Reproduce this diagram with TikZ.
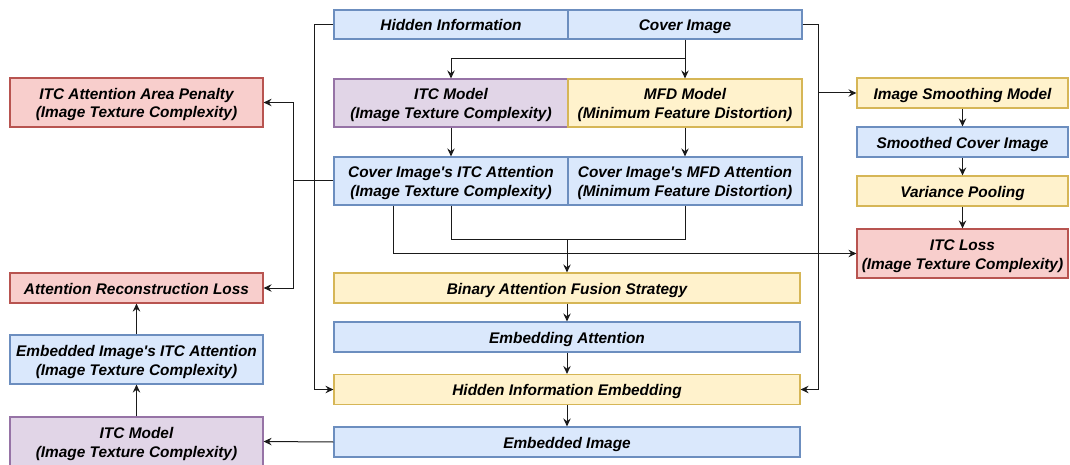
\documentclass[tikz,border=0pt]{standalone}
\usepackage{fontspec}
\setmainfont{Liberation Sans}
\usetikzlibrary{arrows.meta}
\definecolor{bluefill}{HTML}{DAE8FC}\definecolor{blueline}{HTML}{6C8EBF}
\definecolor{purpfill}{HTML}{E1D5E7}\definecolor{purpline}{HTML}{9673A6}
\definecolor{yellfill}{HTML}{FFF2CC}\definecolor{yellline}{HTML}{D6B656}
\definecolor{redfill}{HTML}{F8CECC}\definecolor{redline}{HTML}{B85450}
\definecolor{wire}{HTML}{1A1A1A}
\newcommand{\apos}{\textquotesingle}
\begin{document}
\begin{tikzpicture}[x=1pt,y=-1pt,
  base/.style={rectangle, line width=1.2pt, inner sep=0pt, align=center,
    text height=12.5pt, text depth=0pt,
    font=\fontsize{15.4}{18.5}\selectfont\bfseries\itshape},
  two/.style={text height=31pt, text depth=0pt},
  wh/.style 2 args={minimum width=#1pt, minimum height=#2pt},
  bluebox/.style={base, fill=bluefill, draw=blueline},
  purpbox/.style={base, fill=purpfill, draw=purpline},
  yellbox/.style={base, fill=yellfill, draw=yellline},
  redbox/.style={base, fill=redfill, draw=redline},
  link/.style={draw=wire, line width=1pt},
  arr/.style={link, -{Stealth[length=8pt, width=7.5pt, inset=2.8pt]}}]
\useasboundingbox (0,0) rectangle (1070,465);

% central column: inputs and models
\node[bluebox, wh={234}{29}] (hid) at (451,24.5) {Hidden Information};
\node[bluebox, wh={234}{29}] (cov) at (685,24.5) {Cover Image};
\node[purpbox, two, wh={234}{48}] (itcm) at (451,103) {ITC Model\\(Image Texture Complexity)};
\node[yellbox, two, wh={234}{48}] (mfdm) at (685,103) {MFD Model\\(Minimum Feature Distortion)};
\node[bluebox, two, wh={234}{48}] (itca) at (451,181) {Cover Image\apos s ITC Attention\\(Image Texture Complexity)};
\node[bluebox, two, wh={234}{48}] (mfda) at (685,181) {Cover Image\apos s MFD Attention\\(Minimum Feature Distortion)};

% central column: fusion and embedding
\node[yellbox, wh={466}{30}] (baf) at (567,288) {Binary Attention Fusion Strategy};
\node[bluebox, wh={466}{30}] (ea) at (567,337) {Embedding Attention};
\node[yellbox, wh={466}{30}] (hie) at (567,389.5) {Hidden Information Embedding};
\node[bluebox, wh={466}{30}] (emb) at (567,442) {Embedded Image};

% right column: texture loss branch
\node[yellbox, wh={211}{30}] (ism) at (962.5,93) {Image Smoothing Model};
\node[bluebox, wh={211}{30}] (sci) at (962.5,142) {Smoothed Cover Image};
\node[yellbox, wh={211}{30}] (vp) at (962.5,191) {Variance Pooling};
\node[redbox, two, wh={211}{49}] (itcl) at (962.5,253.5) {ITC Loss\\(Image Texture Complexity)};

% left column: attention losses
\node[redbox, two, wh={253}{49}] (pen) at (136.5,102.5) {ITC Attention Area Penalty\\(Image Texture Complexity)};
\node[redbox, wh={253}{30}] (arl) at (136.5,288) {Attention Reconstruction Loss};
\node[bluebox, two, wh={253}{49}] (eia) at (136.5,359.5) {Embedded Image\apos s ITC Attention\\(Image Texture Complexity)};
\node[purpbox, two, wh={253}{49}] (itcm2) at (136.5,441.5) {ITC Model\\(Image Texture Complexity)};

% junction points
\coordinate (split) at (685,59);
\coordinate (merge) at (567,239);
\coordinate (lbus) at (293,181);
\coordinate (rbus) at (818,93);

% cover image into both models
\draw[arr] (cov.south) -- (mfdm.north);
\draw[arr] (split) -| (itcm.north);
\draw[arr] (itcm.south) -- (itca.north);
\draw[arr] (mfdm.south) -- (mfda.north);

% attentions merged into the fusion strategy
\draw[link] (itca.south) |- (merge);
\draw[link] (mfda.south) |- (merge);
\draw[arr] (merge) -- (baf.north);
\draw[arr] (baf.south) -- (ea.north);
\draw[arr] (ea.south) -- (hie.north);
\draw[arr] (hie.south) -- (emb.north);

% hidden information and cover image into the embedding
\draw[arr] (hid.west) -- ++(-19,0) |- (hie.west);
\draw[arr] (cov.east) -- ++(16,0) |- (hie.east);
\draw[arr] (rbus) -- (ism.west);

% smoothing branch
\draw[arr] (ism.south) -- (sci.north);
\draw[arr] (sci.south) -- (vp.north);
\draw[arr] (vp.south) -- (itcl.north);
\draw[arr] ([xshift=-58pt]itca.south) |- (itcl.west);

% attention losses
\draw[link] (itca.west) -- (lbus);
\draw[arr] (lbus) |- (pen.east);
\draw[arr] (lbus) |- (arl.east);
\draw[arr] (emb.west) -- (itcm2.east);
\draw[arr] (itcm2.north) -- (eia.south);
\draw[arr] (eia.north) -- (arl.south);
\end{tikzpicture}
\end{document}
